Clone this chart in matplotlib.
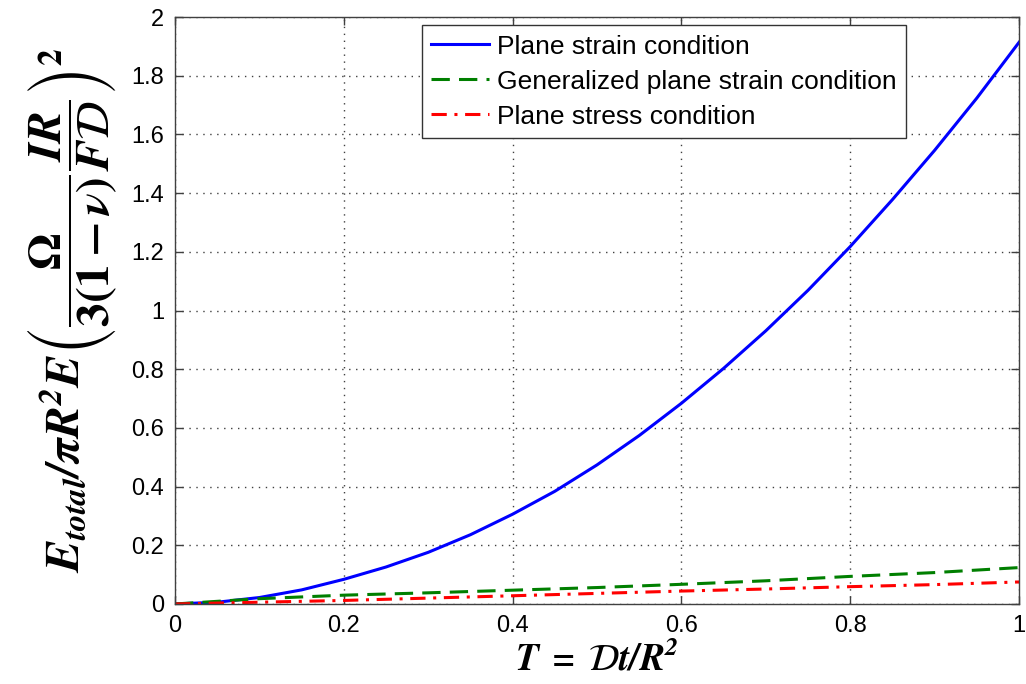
import numpy as np
import matplotlib
matplotlib.use('Agg')
import matplotlib.pyplot as plt

T = [0.0, 0.05, 0.1, 0.15, 0.2, 0.25, 0.3, 0.35, 0.4, 0.45, 0.5,
     0.55, 0.6, 0.65, 0.7, 0.75, 0.8, 0.85, 0.9, 0.95, 1.0]
plane_strain = [0.0, 0.006, 0.022, 0.048, 0.084, 0.126, 0.176, 0.236, 0.306, 0.384, 0.474,
                0.574, 0.684, 0.803, 0.931, 1.069, 1.218, 1.378, 1.546, 1.724, 1.914]

T_coarse = [0.0, 0.1, 0.2, 0.3, 0.4, 0.5, 0.6, 0.7, 0.8, 0.9, 1.0]
gen_plane_strain = [0.0, 0.018, 0.03, 0.038, 0.047, 0.056, 0.067, 0.079, 0.094, 0.107, 0.124]
plane_stress = [0.0, 0.006, 0.012, 0.02, 0.028, 0.036, 0.044, 0.051, 0.059, 0.066, 0.075]

plt.rcParams['font.family'] = ['Liberation Sans', 'DejaVu Sans']
plt.rcParams['mathtext.fontset'] = 'stix'

fig = plt.figure(figsize=(10.26, 6.84), dpi=100)
ax = fig.add_axes([0.1706, 0.117, 0.8226, 0.858])

ax.plot(T, plane_strain, color='#0000ff', lw=2.2, label='Plane strain condition')
ax.plot(T_coarse, gen_plane_strain, color='#007f00', lw=2.2, dashes=(6, 3),
        label='Generalized plane strain condition')
ax.plot(T_coarse, plane_stress, color='#ff0000', lw=2.2, dashes=(5, 2.5, 1, 2.5),
        label='Plane stress condition')

ax.set_xlim(0, 1)
ax.set_ylim(0, 2)
ax.set_xticks(np.arange(0, 1.01, 0.2))
ax.set_yticks(np.arange(0, 2.01, 0.2))
ax.set_xticklabels(['0', '0.2', '0.4', '0.6', '0.8', '1'])
ax.set_yticklabels(['0', '0.2', '0.4', '0.6', '0.8', '1', '1.2', '1.4', '1.6', '1.8', '2'])
ax.tick_params(direction='in', length=6, width=1, top=True, right=True,
               labelsize=17, colors='#404040', labelcolor='black', pad=8)
for s in ax.spines.values():
    s.set_color('#404040')
    s.set_linewidth(1)
ax.grid(True, linestyle=(0, (1, 4)), color='#404040', linewidth=1)

ax.set_xlabel(r'$\mathbfit{T\ =\ \mathcal{D}t/R^2}$', fontsize=27, labelpad=3)
ax.set_ylabel(r'$\mathbfit{E_{total}/\pi R^2 E}\left(\dfrac{\mathbf{\Omega}}{\mathbf{3(1-}\mathbfit{\nu}\mathbf{)}}'
              r'\dfrac{\mathbfit{IR}}{\mathbfit{F\mathcal{D}}}\right)^{\mathbf{2}}$',
              fontsize=34, labelpad=9)

leg = ax.legend(loc='upper left', bbox_to_anchor=(0.2926, 0.986), fontsize=19,
                fancybox=False, edgecolor='#333333', framealpha=1,
                handlelength=2.2, handletextpad=0.3, borderpad=0.35, labelspacing=0.42,
                borderaxespad=0)
leg.get_frame().set_linewidth(1)

fig.savefig('out.png', dpi=100)
